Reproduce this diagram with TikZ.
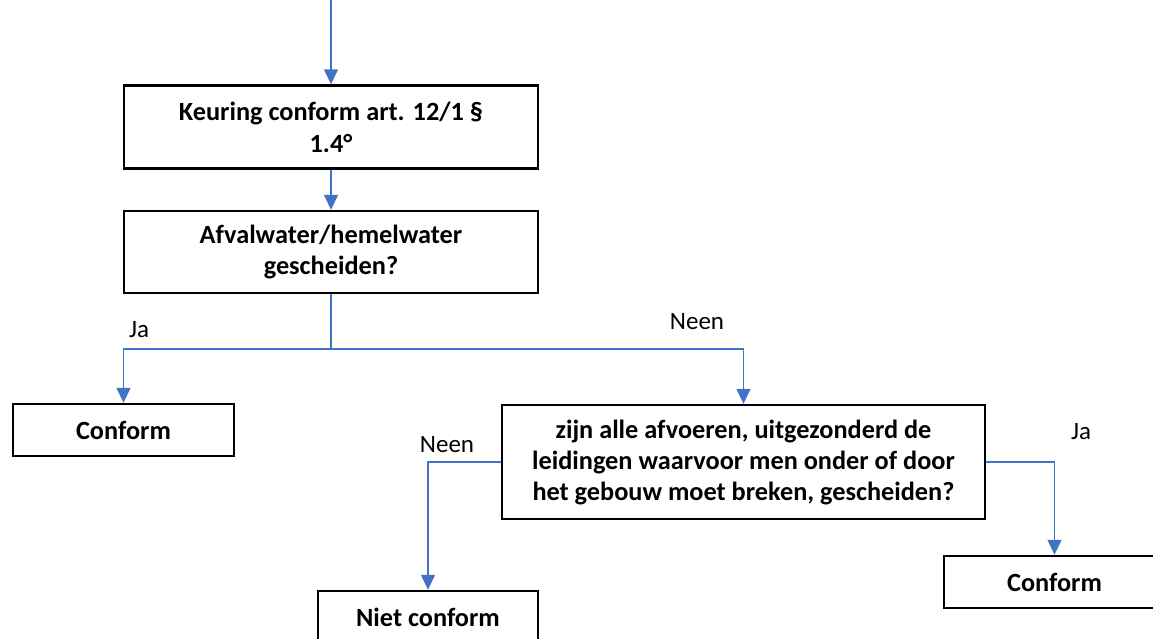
\documentclass[tikz,border=0pt]{standalone}
\usepackage{fontspec}
\setmainfont{Carlito}
\usetikzlibrary{arrows.meta}
\definecolor{flowblue}{HTML}{4472C4}
\tikzset{
  box/.style={draw=black, line width=2.4pt, fill=white, align=center, inner sep=0pt,
    font=\fontsize{26.3}{31}\selectfont\bfseries},
  conn/.style={draw=flowblue, line width=1.4pt, -{Triangle[width=14pt,length=15pt]}},
  lbl/.style={font=\fontsize{25}{29}\selectfont, inner sep=0pt}
}
\begin{document}
\begin{tikzpicture}[x=1pt,y=-1pt]
\useasboundingbox (0,0) rectangle (1153,638);
\fill[white] (0,0) rectangle (1153,638);
\node[box, minimum width=414pt, minimum height=83pt] (k1) at (331,127) {Keuring conform art. 12/1 §\\[1pt]1.4°};
\node[box, minimum width=414pt, minimum height=82pt] (k2) at (331,252) {Afvalwater/hemelwater\\gescheiden?};
\node[box, minimum width=221pt, minimum height=52pt] (c1) at (123.5,430) {Conform};
\node[box, minimum width=483pt, minimum height=114pt] (q) at (743.5,462) {zijn alle afvoeren, uitgezonderd de\\leidingen waarvoor men onder of door\\het gebouw moet breken, gescheiden?};
\node[box, minimum width=220pt, minimum height=52pt] (n) at (428,617) {Niet conform};
\node[box, minimum width=221pt, minimum height=52pt] (c2) at (1054.5,582) {Conform};
\coordinate (top) at (331,0);
\coordinate (split) at (331,349);
\draw[conn] (top) -- (k1.north);
\draw[conn] (k1.south) -- (k2.north);
\draw[draw=flowblue, line width=1.4pt] (k2.south) -- (split);
\draw[conn] (split) -| (c1.north);
\draw[conn] (split) -| (q.north);
\draw[conn] (q.west) -| (n.north);
\draw[conn] (q.east) -| (c2.north);
\node[lbl] (ja1) at (139,330) {Ja};
\node[lbl] (neen1) at (697,322) {Neen};
\node[lbl] (neen2) at (447,445) {Neen};
\node[lbl] (ja2) at (1081,432) {Ja};
\end{tikzpicture}
\end{document}
